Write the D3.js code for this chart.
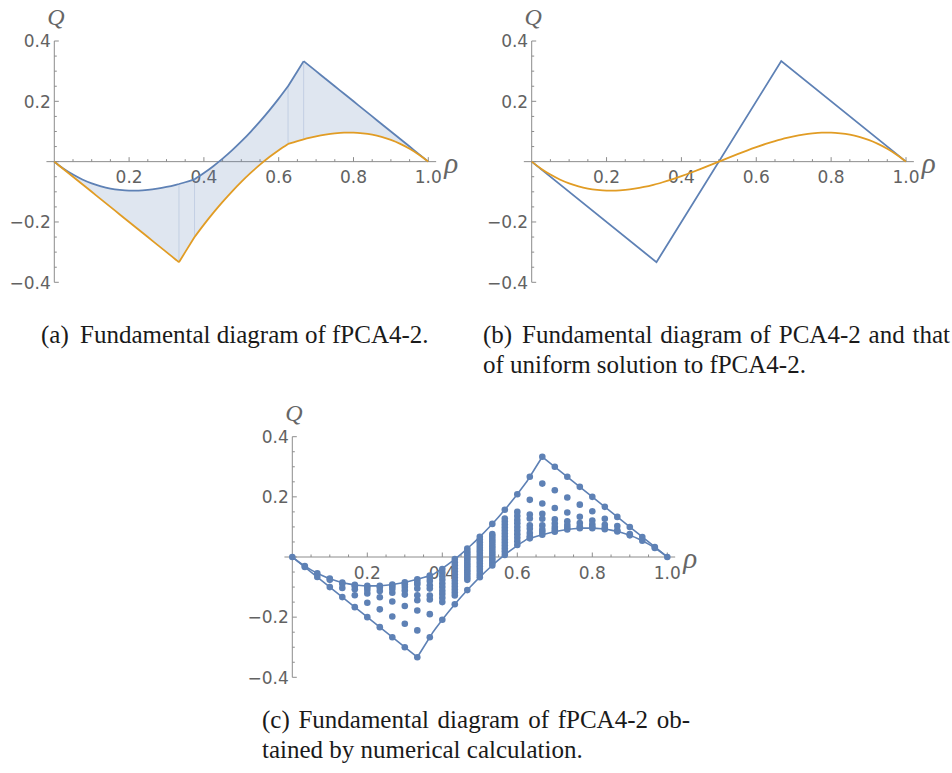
<!DOCTYPE html>
<html>
<head>
<meta charset="utf-8">
<script src="https://cdn.jsdelivr.net/npm/d3@7"></script>
<style>
  body { margin: 0; background: #fff; }
  .tick-label { font-family: "DejaVu Sans", sans-serif; font-size: 17px; fill: #626262; }
  .axis-label { font-family: "Liberation Serif", serif; font-style: italic; fill: #666; }
  .caption { font-family: "Liberation Serif", serif; font-size: 26px; fill: #1a1a1a; }
</style>
</head>
<body>
<svg width="952" height="773"></svg>
<script>
// density grid shared by the boundary curves
const rhoGrid = [0, 0.025, 0.05, 0.075, 0.1, 0.125, 0.15, 0.175, 0.2, 0.225, 0.25, 0.275, 0.3, 0.325, 0.3333,
    0.35, 0.375, 0.4, 0.425, 0.45, 0.475, 0.5, 0.525, 0.55, 0.575, 0.6, 0.625, 0.65, 0.6667, 0.675,
    0.7, 0.725, 0.75, 0.775, 0.8, 0.825, 0.85, 0.875, 0.9, 0.925, 0.95, 0.975, 1];

// uniform solution (orange curve of (b), lower tail of (a))
const uniformQ = [0, -0.0232, -0.0428, -0.0590, -0.0720, -0.0820, -0.0893, -0.0938, -0.0960, -0.0959, -0.0938, -0.0897, -0.0840, -0.0768, -0.0741,
    -0.0683, -0.0586, -0.0480, -0.0367, -0.0248, -0.0125, 0, 0.0125, 0.0248, 0.0367, 0.0480, 0.0586, 0.0683, 0.0741, 0.0768,
    0.0840, 0.0897, 0.0938, 0.0959, 0.0960, 0.0938, 0.0893, 0.0820, 0.0720, 0.0590, 0.0428, 0.0232, 0];

// upper / lower boundary of the fPCA4-2 region
const upperQ = [0, -0.0232, -0.0428, -0.0590, -0.0720, -0.0820, -0.0893, -0.0938, -0.0960, -0.0959, -0.0938, -0.0897, -0.0840, -0.0768, -0.0741,
    -0.0683, -0.0586, -0.038, -0.0153, 0.0099, 0.0373, 0.067, 0.099, 0.1333, 0.1699, 0.2088, 0.250, 0.300, 0.3333, 0.325,
    0.300, 0.275, 0.250, 0.225, 0.200, 0.175, 0.150, 0.125, 0.100, 0.075, 0.050, 0.025, 0];
const lowerQ = [0, -0.025, -0.050, -0.075, -0.100, -0.125, -0.150, -0.175, -0.200, -0.225, -0.250, -0.275, -0.300, -0.325, -0.3333,
    -0.300, -0.250, -0.2088, -0.1699, -0.1333, -0.099, -0.067, -0.0373, -0.0099, 0.0153, 0.038, 0.0586, 0.0683, 0.0741, 0.0768,
    0.0840, 0.0897, 0.0938, 0.0959, 0.0960, 0.0938, 0.0893, 0.0820, 0.0720, 0.0590, 0.0428, 0.0232, 0];

// densities where the boundary curves change branch (also the mesh lines of (a))
const kinkRho = [0.3333, 0.375, 0.625, 0.6667];

// PCA4-2 (blue of (b))
const pcaRho = [0, 0.3333, 0.6667, 1];
const pcaQ = [0, -0.3333, 0.3333, 0];

// numerical results of (c): columns at rho = k/30
const dotK = [0, 1, 2, 3, 4, 5, 6, 7, 8, 9, 10, 11, 12, 13, 14, 15, 16, 17, 18, 19, 20, 21, 22, 23, 24, 25, 26, 27, 28, 29, 30];
const dotQ = [
    [0],
    [-0.030, -0.0333],
    [-0.054, -0.0667],
    [-0.072, -0.076, -0.100],
    [-0.0847, -0.089, -0.103, -0.1333],
    [-0.0926, -0.097, -0.107, -0.127, -0.1667],
    [-0.096, -0.100, -0.109, -0.121, -0.152, -0.200],
    [-0.0954, -0.101, -0.113, -0.134, -0.174, -0.2333],
    [-0.0913, -0.097, -0.106, -0.119, -0.148, -0.198, -0.2667],
    [-0.084, -0.091, -0.100, -0.111, -0.125, -0.163, -0.222, -0.300],
    [-0.0741, -0.083, -0.091, -0.105, -0.127, -0.144, -0.178, -0.244, -0.3333],
    [-0.062, -0.069, -0.080, -0.094, -0.105, -0.128, -0.141, -0.190, -0.2667],
    [-0.040, -0.052, -0.064, -0.076, -0.088, -0.100, -0.112, -0.123, -0.136, -0.150, -0.2088],
    [-0.007, -0.018, -0.028, -0.038, -0.048, -0.058, -0.068, -0.078, -0.088, -0.098, -0.108, -0.118, -0.128, -0.157],
    [0.028, 0.020, 0.012, 0.004, -0.004, -0.012, -0.020, -0.028, -0.036, -0.044, -0.052, -0.060, -0.068, -0.076, -0.110],
    [0.067, 0.058, 0.049, 0.040, 0.031, 0.022, 0.013, 0.004, -0.004, -0.013, -0.022, -0.031, -0.040, -0.049, -0.058, -0.067],
    [0.110, 0.076, 0.068, 0.060, 0.052, 0.044, 0.036, 0.028, 0.020, 0.012, 0.004, -0.004, -0.012, -0.020, -0.028],
    [0.157, 0.128, 0.118, 0.108, 0.098, 0.088, 0.078, 0.068, 0.058, 0.048, 0.038, 0.028, 0.018, 0.007],
    [0.2088, 0.150, 0.136, 0.123, 0.112, 0.100, 0.088, 0.076, 0.064, 0.052, 0.040],
    [0.2667, 0.190, 0.141, 0.128, 0.105, 0.094, 0.080, 0.069, 0.062],
    [0.3333, 0.244, 0.178, 0.144, 0.127, 0.105, 0.091, 0.083, 0.0741],
    [0.300, 0.222, 0.163, 0.125, 0.111, 0.100, 0.091, 0.084],
    [0.2667, 0.198, 0.148, 0.119, 0.106, 0.097, 0.0913],
    [0.2333, 0.174, 0.134, 0.113, 0.101, 0.0954],
    [0.200, 0.152, 0.121, 0.109, 0.100, 0.096],
    [0.1667, 0.127, 0.107, 0.097, 0.0926],
    [0.1333, 0.103, 0.089, 0.0847],
    [0.100, 0.076, 0.072],
    [0.0667, 0.054],
    [0.0333, 0.030],
    [0]
];

const xTickLabels = [0.2, 0.4, 0.6, 0.8, 1.0];
const yTickLabels = [-0.4, -0.2, 0.2, 0.4];

const blue = "#5e81b5",
    orange = "#e19c24",
    axisColor = "#8c8c8c";

const svg = d3.select("svg");
const fmt = d3.format(".1f");

// Draws the Mathematica-style axes for one panel and returns its scales.
function panel(x0, x1, yTop, yBot) {
    const x = d3.scaleLinear().domain([0, 1]).range([x0, x1]);
    const y = d3.scaleLinear().domain([-0.4, 0.4]).range([yBot, yTop]);
    const g = svg.append("g");

    const ax = g.append("g")
        .attr("stroke", axisColor)
        .attr("stroke-width", 1);

    ax.append("line")
        .attr("x1", x(-0.021)).attr("x2", x(1.021))
        .attr("y1", y(0)).attr("y2", y(0));
    ax.append("line")
        .attr("x1", x(0)).attr("x2", x(0))
        .attr("y1", y(-0.4)).attr("y2", y(0.4));

    ax.selectAll(".xt")
        .data(d3.range(1, 21))
        .enter().append("line")
        .attr("x1", i => x(i * 0.05)).attr("x2", i => x(i * 0.05))
        .attr("y1", y(0))
        .attr("y2", i => y(0) - (i % 4 === 0 ? 4.5 : 2.5));

    ax.selectAll(".yt")
        .data(d3.range(-8, 9))
        .enter().append("line")
        .attr("y1", i => y(i * 0.05)).attr("y2", i => y(i * 0.05))
        .attr("x1", x(0))
        .attr("x2", i => x(0) + (i % 4 === 0 ? 4.5 : 2.5));

    g.selectAll(".xl")
        .data(xTickLabels)
        .enter().append("text")
        .attr("class", "tick-label")
        .attr("x", d => x(d))
        .attr("y", y(0) + 21.6)
        .attr("text-anchor", "middle")
        .text(fmt);

    g.selectAll(".yl")
        .data(yTickLabels)
        .enter().append("text")
        .attr("class", "tick-label")
        .attr("x", x(0) - 3.5)
        .attr("y", d => y(d) + 6.2)
        .attr("text-anchor", "end")
        .text(fmt);

    g.append("text")
        .attr("class", "axis-label")
        .attr("x", x(0) + 1.5)
        .attr("y", y(0.4) - 16)
        .attr("text-anchor", "middle")
        .style("font-size", "24px")
        .text("Q");

    g.append("text")
        .attr("class", "axis-label")
        .attr("x", x(1.021) + 8)
        .attr("y", y(0) + 11)
        .style("font-size", "29px")
        .text("ρ");

    return { g, x, y };
}

// index ranges of rhoGrid between the kinks; each piece is drawn smooth on its own
const cuts = [0, ...kinkRho.map(r => rhoGrid.indexOf(r)), rhoGrid.length - 1];
const pieces = d3.pairs(cuts).map(([s, e]) => d3.range(s, e + 1));

function curvePath(p, values) {
    const line = d3.line()
        .curve(d3.curveMonotoneX)
        .x(i => p.x(rhoGrid[i]))
        .y(i => p.y(values[i]));
    return pieces.map(idx => line(idx)).join("");
}

function bandPath(p, lo, hi) {
    const area = d3.area()
        .curve(d3.curveMonotoneX)
        .x(i => p.x(rhoGrid[i]))
        .y0(i => p.y(lo[i]))
        .y1(i => p.y(hi[i]));
    return pieces.map(idx => area(idx)).join("");
}

// ---- (a)
const a = panel(54.3, 428.3, 41, 282.3);

a.g.append("path")
    .attr("d", bandPath(a, lowerQ, upperQ))
    .attr("fill", blue)
    .attr("fill-opacity", 0.2);

a.g.selectAll(".mesh")
    .data(kinkRho)
    .enter().append("line")
    .attr("x1", d => a.x(d)).attr("x2", d => a.x(d))
    .attr("y1", d => a.y(upperQ[rhoGrid.indexOf(d)]))
    .attr("y2", d => a.y(lowerQ[rhoGrid.indexOf(d)]))
    .attr("stroke", blue)
    .attr("stroke-opacity", 0.22)
    .attr("stroke-width", 1);

a.g.append("path")
    .attr("d", curvePath(a, upperQ))
    .attr("fill", "none").attr("stroke", blue).attr("stroke-width", 1.8)
    .attr("stroke-linejoin", "round");
a.g.append("path")
    .attr("d", curvePath(a, lowerQ))
    .attr("fill", "none").attr("stroke", orange).attr("stroke-width", 1.8)
    .attr("stroke-linejoin", "round");

// ---- (b)
const b = panel(531.7, 906, 41, 282.3);

b.g.append("path")
    .attr("d", d3.line()
        .x((d, i) => b.x(pcaRho[i]))
        .y(d => b.y(d))(pcaQ))
    .attr("fill", "none").attr("stroke", blue).attr("stroke-width", 1.8);
b.g.append("path")
    .attr("d", d3.line()
        .curve(d3.curveMonotoneX)
        .x((d, i) => b.x(rhoGrid[i]))
        .y(d => b.y(d))(uniformQ))
    .attr("fill", "none").attr("stroke", orange).attr("stroke-width", 1.8);

// ---- (c)
const c = panel(292.3, 667.3, 436.7, 677.3);

[upperQ, lowerQ].forEach(vals => {
    c.g.append("path")
        .attr("d", curvePath(c, vals))
        .attr("fill", "none").attr("stroke", blue).attr("stroke-width", 1.6)
        .attr("stroke-linejoin", "round");
});

const dots = [];
dotK.forEach((k, i) => dotQ[i].forEach(q => dots.push({ rho: k / 30, q })));

c.g.selectAll(".dot")
    .data(dots)
    .enter().append("circle")
    .attr("cx", d => c.x(d.rho))
    .attr("cy", d => c.y(d.q))
    .attr("r", 3.3)
    .attr("fill", blue);

// ---- captions (Times, slightly condensed)
const sx = 0.962;

function captionLine(x, y) {
    return svg.append("g")
        .attr("class", "caption")
        .attr("transform", `translate(${x},${y}) scale(${sx},1)`);
}

// lays words out so that they fill [x0, x1] (justified line)
function justify(words, x0, x1, y) {
    const t = captionLine(x0, y);
    const nodes = words.map(w => t.append("text").text(w));
    const widths = nodes.map(n => n.node().getComputedTextLength());
    const gap = ((x1 - x0) / sx - d3.sum(widths)) / (words.length - 1);
    let cx = 0;
    nodes.forEach((n, i) => {
        n.attr("x", cx);
        cx += widths[i] + gap;
    });
}

function plain(text, x, y) {
    captionLine(x, y).append("text").text(text);
}

plain("(a)", 41, 343);
plain("Fundamental diagram of fPCA4-2.", 80, 343);

plain("(b)", 483, 343);
justify(["Fundamental", "diagram", "of", "PCA4-2", "and", "that"], 522, 950, 343);
plain("of uniform solution to fPCA4-2.", 483, 373);

justify(["(c)", "Fundamental", "diagram", "of", "fPCA4-2", "ob-"], 262, 690, 728);
plain("tained by numerical calculation.", 262, 758);
</script>
</body>
</html>
